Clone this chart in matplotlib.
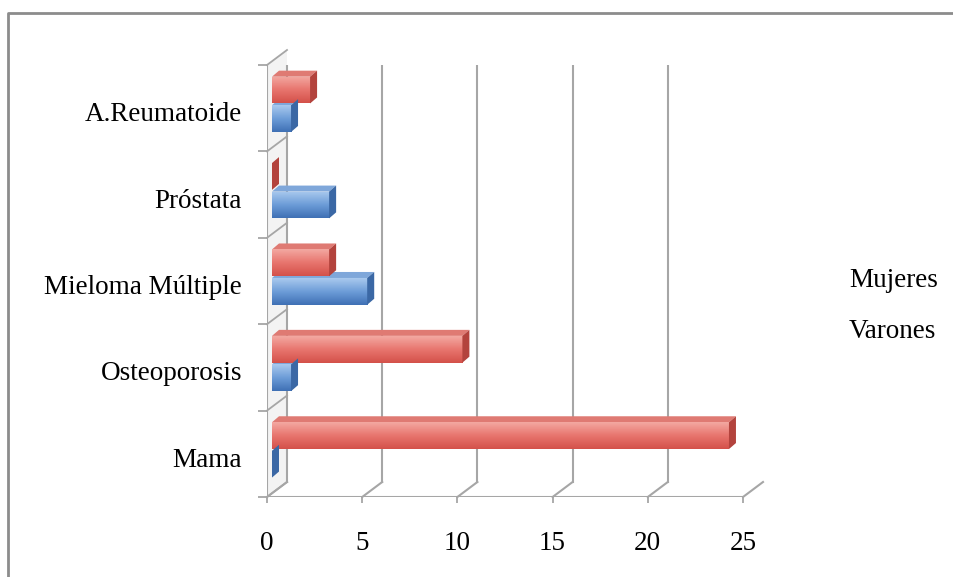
import numpy as np
import matplotlib.pyplot as plt
import matplotlib.transforms as mtransforms
from matplotlib.colors import LinearSegmentedColormap
from matplotlib.patches import Polygon
from matplotlib.lines import Line2D

categorias = ['Mama', 'Osteoporosis', 'Mieloma Múltiple', 'Próstata', 'A.Reumatoide']
mujeres = [24, 10, 3, 0, 2]
varones = [0, 1, 5, 3, 1]
xticks = [0, 5, 10, 15, 20, 25]

plt.rcParams['font.family'] = ['Liberation Serif', 'DejaVu Serif']
FS = 19.5
GRID = '#a6a6a6'

W, H = 954, 577
fig = plt.figure(figsize=(W / 100, H / 100), dpi=100)
ax = fig.add_axes([267 / W, 80 / H, 476 / W, 432 / H])
ax.patch.set_visible(False)
for s in ax.spines.values():
    s.set_visible(False)

# depth of the box (back wall offset) and of each bar, in pixels
DX, DY = 20, 15
BX, BY = 7, 6
ident = mtransforms.IdentityTransform()
back = mtransforms.offset_copy(ax.transData, fig, x=DX, y=DY, units='dots')
bar_tr = mtransforms.offset_copy(ax.transData, fig, x=5, y=0, units='dots')

pos = np.arange(len(categorias))
ylo, yhi = -0.5, len(categorias) - 0.5
ax.set_xlim(0, 25)
ax.set_ylim(ylo, yhi)


def depth_line(x, y, **kw):
    px, py = ax.transData.transform((x, y))
    fig.add_artist(Line2D([px, px + DX], [py, py + DY], transform=ident, **kw))


# left wall
(fx0, fy0), (fx1, fy1) = ax.transData.transform([(0, ylo), (0, yhi)])
fig.add_artist(Polygon([(fx0, fy0), (fx1, fy1), (fx1 + DX, fy1 + DY), (fx0 + DX, fy0 + DY)],
                       closed=True, transform=ident, facecolor='#f3f3f3',
                       edgecolor='none', zorder=0))
ax.plot([0, 0], [ylo, yhi], color=GRID, lw=1.5, zorder=1)
for b in np.arange(ylo, yhi + 0.5, 1):
    depth_line(0, b, color=GRID, lw=1.3, zorder=1)

# back wall gridlines
for x in xticks:
    ax.plot([x, x], [ylo, yhi], color=GRID, lw=1.5, transform=back, zorder=1)

# floor
ax.plot([0, 25], [ylo, ylo], color=GRID, lw=1.5, zorder=1)
for x in xticks:
    depth_line(x, ylo, color=GRID, lw=1.5, zorder=1)

# bars
h = 0.31
b_var = ax.barh(pos - 0.12, varones, height=h, color='#6d9dd8', transform=bar_tr,
                zorder=3, label='Varones')
b_muj = ax.barh(pos + 0.21, mujeres, height=h, color='#e8756e', transform=bar_tr,
                zorder=3, label='Mujeres')

styles = [
    (b_var, ['#3f70b5', '#6d9dd8', '#a9c9ee'], '#7fa7da', '#3b68a5'),
    (b_muj, ['#d4514a', '#e8756e', '#f3a8a1'], '#df7a73', '#b3433d'),
]
grad = np.linspace(0, 1, 64).reshape(-1, 1)
for cont, cols, top_c, side_c in styles:
    cmap = LinearSegmentedColormap.from_list('g', cols)
    for rect in cont:
        x0, y0 = rect.get_x(), rect.get_y()
        x1, y1 = x0 + rect.get_width(), y0 + rect.get_height()
        if x1 > x0:
            im = ax.imshow(grad, cmap=cmap, origin='lower', aspect='auto',
                           extent=(x0, x1, y0, y1), transform=bar_tr, zorder=3.1)
            im.set_clip_path(rect)
        (px0, py0), (px1, py1) = bar_tr.transform([(x0, y0), (x1, y1)])
        top = [(px0, py1), (px1, py1), (px1 + BX, py1 + BY), (px0 + BX, py1 + BY)]
        side = [(px1, py0), (px1, py1), (px1 + BX, py1 + BY), (px1 + BX, py0 + BY)]
        ax.add_patch(Polygon(top, closed=True, transform=ident, facecolor=top_c,
                             edgecolor='none', zorder=2.9, clip_on=False))
        ax.add_patch(Polygon(side, closed=True, transform=ident, facecolor=side_c,
                             edgecolor='none', zorder=3.2, clip_on=False))

ax.set_xlim(0, 25)
ax.set_ylim(ylo, yhi)

# ticks and labels
ax.set_xticks(xticks)
ax.set_xticklabels([str(t) for t in xticks])
ax.tick_params(axis='x', length=4.5, width=1.3, color=GRID, pad=20, labelsize=FS)
ax.set_yticks(np.arange(ylo, yhi + 0.5, 1))
ax.set_yticklabels([])
ax.tick_params(axis='y', which='major', length=6.5, width=1.3, color=GRID)
ax.set_yticks(pos - 0.04, minor=True)
ax.set_yticklabels(categorias, minor=True)
ax.tick_params(axis='y', which='minor', length=0, pad=18, labelsize=FS)

# legend shows the names only
leg = ax.legend([b_muj, b_var], ['Mujeres', 'Varones'], loc='upper left',
                bbox_to_anchor=(849 / W, 1 - 268 / H), bbox_transform=fig.transFigure,
                frameon=False, handlelength=0, handletextpad=0, borderpad=0,
                borderaxespad=0, fontsize=FS, labelspacing=0.95)
for hnd in leg.legend_handles:
    hnd.set_visible(False)

# chart area border
fig.add_artist(Line2D([8 / W, 8 / W, 1], [0, 1 - 13 / H, 1 - 13 / H],
                      transform=fig.transFigure, color='#8c8c8c', lw=2))

fig.savefig('out.png', dpi=100)
